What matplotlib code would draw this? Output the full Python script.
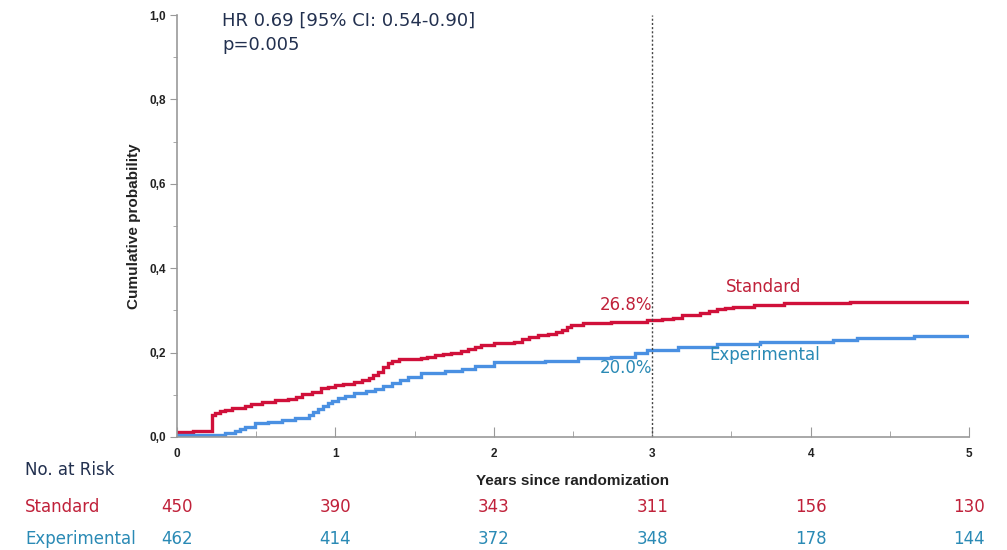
import matplotlib
matplotlib.use("Agg")
import matplotlib.pyplot as plt
import matplotlib.transforms as mtransforms
from matplotlib.ticker import MultipleLocator, FuncFormatter

# ---- data ----
std_t = [0, 0.10, 0.219, 0.24, 0.27, 0.30, 0.345, 0.43, 0.47, 0.535,
         0.62, 0.70, 0.75, 0.79, 0.85, 0.91, 0.95, 0.997, 1.05, 1.12,
         1.17, 1.21, 1.24, 1.27, 1.30, 1.33, 1.36, 1.40, 1.54, 1.58,
         1.63, 1.68, 1.73, 1.79, 1.84, 1.88, 1.92, 2.0, 2.13, 2.18,
         2.22, 2.28, 2.34, 2.39, 2.43, 2.46, 2.49, 2.56, 2.74, 2.97,
         3.06, 3.13, 3.19, 3.30, 3.36, 3.41, 3.46, 3.51, 3.64, 3.83,
         4.25, 5.0]
std_p = [0.012, 0.014, 0.052, 0.056, 0.062, 0.065, 0.068, 0.073, 0.078, 0.084,
         0.088, 0.090, 0.095, 0.101, 0.106, 0.115, 0.119, 0.123, 0.126, 0.130,
         0.134, 0.139, 0.146, 0.155, 0.165, 0.175, 0.180, 0.184, 0.186, 0.190,
         0.194, 0.197, 0.200, 0.204, 0.208, 0.213, 0.218, 0.222, 0.226, 0.232,
         0.238, 0.241, 0.244, 0.249, 0.254, 0.260, 0.265, 0.269, 0.273, 0.277,
         0.279, 0.281, 0.289, 0.293, 0.298, 0.303, 0.306, 0.309, 0.313, 0.317,
         0.321, 0.321]
exp_t = [0, 0.30, 0.366, 0.40, 0.43, 0.49, 0.575, 0.66, 0.745, 0.83,
         0.86, 0.89, 0.92, 0.95, 0.98, 1.015, 1.06, 1.12, 1.19, 1.25,
         1.30, 1.36, 1.41, 1.46, 1.54, 1.69, 1.80, 1.88, 2.0, 2.32,
         2.53, 2.74, 2.89, 2.97, 3.16, 3.41, 3.68, 4.14, 4.29, 4.65,
         5.0]
exp_p = [0.005, 0.009, 0.015, 0.020, 0.024, 0.032, 0.036, 0.040, 0.046, 0.052,
         0.059, 0.066, 0.073, 0.080, 0.086, 0.092, 0.097, 0.104, 0.108, 0.113,
         0.120, 0.127, 0.135, 0.143, 0.152, 0.157, 0.160, 0.168, 0.177, 0.181,
         0.186, 0.190, 0.198, 0.206, 0.213, 0.220, 0.226, 0.230, 0.234, 0.240,
         0.240]

risk_years = [0, 1, 2, 3, 4, 5]
risk_standard = [450, 390, 343, 311, 156, 130]
risk_experimental = [462, 414, 372, 348, 178, 144]

RED = "#d0103a"
BLUE = "#4a90e2"
RED_TXT = "#c0213a"
BLUE_TXT = "#2a8ab5"
NAVY = "#22304f"

fig = plt.figure(figsize=(10.07, 5.5), dpi=100)
ax = fig.add_axes([0.1758, 0.2055, 0.7865, 0.7672])

ax.step(std_t, std_p, where="post", color=RED, lw=2.4, solid_joinstyle="miter")
ax.step(exp_t, exp_p, where="post", color=BLUE, lw=2.4, solid_joinstyle="miter")
ax.axvline(3, color="#444444", lw=1.0, ls=(0, (1.5, 1.5)))

ax.set_xlim(0, 5)
ax.set_ylim(0, 1.0)
for s in ["top", "right"]:
    ax.spines[s].set_visible(False)
for s in ["left", "bottom"]:
    ax.spines[s].set_color("#999999")
    ax.spines[s].set_linewidth(1.2)

ax.xaxis.set_major_locator(MultipleLocator(1))
ax.xaxis.set_minor_locator(MultipleLocator(0.5))
ax.yaxis.set_major_locator(MultipleLocator(0.2))
ax.yaxis.set_minor_locator(MultipleLocator(0.1))
ax.yaxis.set_major_formatter(FuncFormatter(lambda v, p: f"{v:.1f}".replace(".", ",")))
ax.tick_params(axis="x", which="major", direction="in", length=7, color="#999999", pad=8)
ax.tick_params(axis="x", which="minor", direction="in", length=4, color="#999999")
ax.tick_params(axis="y", which="major", direction="out", length=5, color="#999999", pad=3)
ax.tick_params(axis="y", which="minor", direction="out", length=3, color="#999999")
for lab in ax.get_xticklabels() + ax.get_yticklabels():
    lab.set_fontfamily("Liberation Sans")
    lab.set_fontweight("bold")
    lab.set_fontsize(8.5)
    lab.set_color("#222222")

ax.set_ylabel("Cumulative probability", family="Liberation Sans", fontweight="bold",
              fontsize=11, color="#222222", labelpad=6)
ax.set_xlabel("Years since randomization", family="Liberation Sans", fontweight="bold",
              fontsize=11, color="#222222", labelpad=10)

ax.text(0.284, 0.986, "HR 0.69 [95% CI: 0.54-0.90]", fontsize=13, color=NAVY,
        va="center", ha="left", family="DejaVu Sans")
ax.text(0.284, 0.93, "p=0.005", fontsize=13, color=NAVY, va="center", ha="left",
        family="DejaVu Sans")

ax.text(3.7, 0.355, "Standard", color=RED_TXT, fontsize=12, ha="center", va="center")
ax.text(3.0, 0.313, "26.8%", color=RED_TXT, fontsize=12, ha="right", va="center")
ax.text(3.0, 0.163, "20.0%", color=BLUE_TXT, fontsize=12, ha="right", va="center")
ax.text(3.36, 0.194, "Experimental", color=BLUE_TXT, fontsize=12, ha="left", va="center")

# risk table
trans = mtransforms.blended_transform_factory(ax.transData, fig.transFigure)
fig.text(0.0248, 0.145, "No. at Risk", color=NAVY, fontsize=12, ha="left", va="center")
fig.text(0.0248, 0.078, "Standard", color=RED_TXT, fontsize=12, ha="left", va="center")
fig.text(0.0248, 0.020, "Experimental", color=BLUE_TXT, fontsize=12, ha="left", va="center")
for x, n in zip(risk_years, risk_standard):
    ax.text(x, 0.078, str(n), transform=trans, color=RED_TXT, fontsize=12,
            ha="center", va="center", clip_on=False)
for x, n in zip(risk_years, risk_experimental):
    ax.text(x, 0.020, str(n), transform=trans, color=BLUE_TXT, fontsize=12,
            ha="center", va="center", clip_on=False)

fig.savefig("out.png", dpi=100)
